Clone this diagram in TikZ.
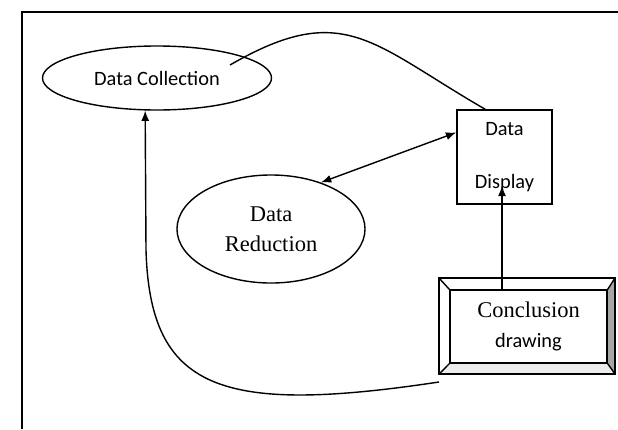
\documentclass[tikz,border=0pt]{standalone}
\usepackage{fontspec}
\setmainfont{Liberation Serif}
\newfontfamily\calibri{Carlito}
\usetikzlibrary{arrows.meta,shapes.geometric}

\begin{document}
\begin{tikzpicture}[
  x = 0.025cm, y = -0.025cm,
  > = {Latex[length=0.26cm,width=0.2cm]},
  line width = 1pt,
  stage/.style = {ellipse, draw, inner sep=0pt, align=center},
  sansfont/.style = {font=\calibri\fontsize{14.5}{17}\selectfont},
  seriffont/.style = {font=\fontsize{16}{21}\selectfont},
  boxed/.style = {rectangle, draw, inner sep=0pt, align=center}
]
\useasboundingbox (0,0) rectangle (618,429);
% frame
\draw[line width=1.4pt] (22,429) -- (22,12) -- (618,12);

\node[stage, sansfont, minimum width=5.725cm, minimum height=1.6cm] (dc) at (157,78) {Data Collection};
\node[stage, seriffont, minimum width=4.7cm, minimum height=2.7cm] (dr) at (271,229) {Data\\Reduction};
\node[boxed, sansfont, minimum width=2.375cm, minimum height=2.35cm] (dd) at (504.5,157) {Data\\[21pt]Display};

% bevelled box
\coordinate (onw) at (439,278);
\coordinate (one) at (615,278);
\coordinate (ose) at (615,374);
\coordinate (osw) at (439,374);
\node[boxed, seriffont, minimum width=3.925cm, minimum height=1.825cm] (cd) at (528.5,326.5)
  {Conclusion\\{\calibri\fontsize{14.5}{17}\selectfont drawing}};
\fill[gray!70] (cd.north east) -- (one) -- (ose) -- (cd.south east) -- cycle;
\fill[gray!15] (cd.south west) -- (cd.south east) -- (ose) -- (osw) -- cycle;
\draw (onw) rectangle (ose);
\draw (cd.north west) rectangle (cd.south east);
\draw (onw) -- (cd.north west);
\draw (one) -- (cd.north east);
\draw (ose) -- (cd.south east);
\draw (osw) -- (cd.south west);

% connectors
\draw ([shift={(73,-13)}]dc.center) to[out=30, in=150, looseness=1.3] (dd.112);
\draw[<->] (dr.43) -- (dd.153);
\draw[->] ([shift={(-26.5,0)}]cd.north) -- ([shift={(-2.5,-19)}]dd.south);
\draw[->] ([shift={(0,8)}]osw) .. controls (220,415) and (150,390) .. (146,250) -- (dc.250);
\end{tikzpicture}
\end{document}
